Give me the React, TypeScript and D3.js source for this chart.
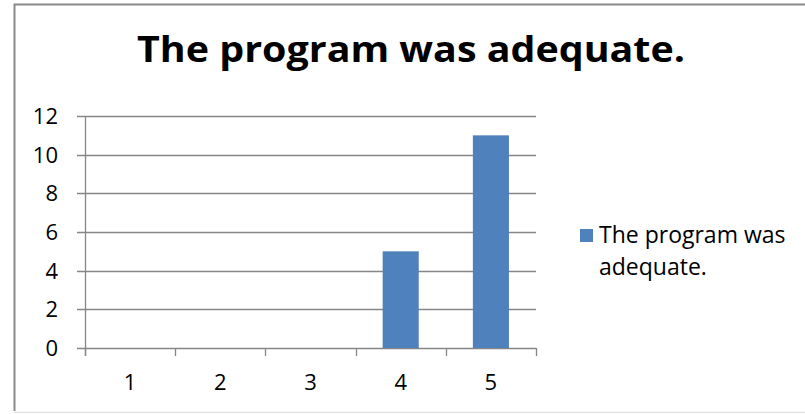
import * as d3 from "d3";
import { useEffect, useRef } from "react";

const VIEW_W = 805;
const VIEW_H = 414;
const PLOT = { left: 85, right: 536, top: 116, bottom: 348 };
const FONT = "'Open Sans', sans-serif";

const TITLE = "The program was adequate.";
const categories = ["1", "2", "3", "4", "5"];
const values = [0, 0, 0, 5, 11];
const yTicks = [0, 2, 4, 6, 8, 10, 12];
const legendLines = ["The program was", "adequate."];
const BAR_COLOR = "#4f81bd";
const GRID = "#868686";

export default function App() {
	const svgRef = useRef<SVGSVGElement>(null);

	useEffect(() => {
		const svg = svgRef.current;
		if (!svg) return;
		const sel = d3.select(svg);
		sel.selectAll("*").remove();

		sel.append("rect").attr("width", VIEW_W).attr("height", VIEW_H).attr("fill", "#fff");

		// chart area frame (right edge is cut off in the reference)
		sel.append("path")
			.attr("d", `M820,4.5 H14.5 V411`)
			.attr("fill", "none")
			.attr("stroke", "#8a8a8a")
			.attr("stroke-width", 2);
		sel.append("line")
			.attr("x1", 14).attr("x2", 805).attr("y1", 412.5).attr("y2", 412.5)
			.attr("stroke", "#e2e2e2").attr("stroke-width", 1.5);

		// title, fitted to the reference width
		sel.append("text")
			.attr("x", 137)
			.attr("y", 62)
			.attr("font-family", FONT)
			.attr("font-weight", "bold")
			.attr("font-size", 36)
			.attr("textLength", 548)
			.attr("lengthAdjust", "spacingAndGlyphs")
			.attr("fill", "#000")
			.text(TITLE);

		const y = d3.scaleLinear().domain([0, 12]).range([PLOT.bottom, PLOT.top]);
		const x = d3
			.scaleBand<string>()
			.domain(categories)
			.range([PLOT.left, PLOT.right])
			.paddingInner(0.6)
			.paddingOuter(0.3);
		const step = x.step();

		const g = sel.append("g");

		// gridlines + y ticks
		yTicks.forEach((t) => {
			const yy = Math.round(y(t)) + 0.5;
			g.append("line")
				.attr("x1", PLOT.left - 8)
				.attr("x2", PLOT.right)
				.attr("y1", yy)
				.attr("y2", yy)
				.attr("stroke", GRID)
				.attr("stroke-width", 1.3);
			g.append("text")
				.attr("x", 58)
				.attr("y", y(t))
				.attr("dy", "0.36em")
				.attr("text-anchor", "end")
				.attr("font-family", FONT)
				.attr("font-size", 22)
				.attr("fill", "#000")
				.text(t);
		});

		// y axis line
		g.append("line")
			.attr("x1", PLOT.left + 0.5)
			.attr("x2", PLOT.left + 0.5)
			.attr("y1", PLOT.top)
			.attr("y2", PLOT.bottom + 8)
			.attr("stroke", GRID)
			.attr("stroke-width", 1.3);

		// category boundary ticks
		d3.range(categories.length + 1).forEach((i) => {
			const xx = Math.round(PLOT.left + i * step) + 0.5;
			g.append("line")
				.attr("x1", xx)
				.attr("x2", xx)
				.attr("y1", PLOT.bottom)
				.attr("y2", PLOT.bottom + 8)
				.attr("stroke", GRID)
				.attr("stroke-width", 1.3);
		});

		// bars
		categories.forEach((c, i) => {
			const v = values[i];
			if (v <= 0) return;
			g.append("rect")
				.attr("x", x(c) ?? 0)
				.attr("y", y(v))
				.attr("width", x.bandwidth())
				.attr("height", y(0) - y(v))
				.attr("fill", BAR_COLOR);
		});

		// x labels
		categories.forEach((c) => {
			g.append("text")
				.attr("x", (x(c) ?? 0) + x.bandwidth() / 2)
				.attr("y", 390)
				.attr("text-anchor", "middle")
				.attr("font-family", FONT)
				.attr("font-size", 22)
				.attr("fill", "#000")
				.text(c);
		});

		// legend
		const lg = sel.append("g");
		lg.append("rect")
			.attr("x", 580)
			.attr("y", 229)
			.attr("width", 13)
			.attr("height", 13)
			.attr("fill", BAR_COLOR);
		legendLines.forEach((line, i) => {
			lg.append("text")
				.attr("x", 599)
				.attr("y", 243 + i * 32)
				.attr("font-family", FONT)
				.attr("font-size", 23)
				.attr("fill", "#000")
				.text(line);
		});
	}, []);

	return (
		<div style={{ position: "fixed", left: 0, top: 0 }}>
			<svg ref={svgRef} width={VIEW_W} height={VIEW_H} viewBox={`0 0 ${VIEW_W} ${VIEW_H}`} style={{ display: "block" }} />
		</div>
	);
}
